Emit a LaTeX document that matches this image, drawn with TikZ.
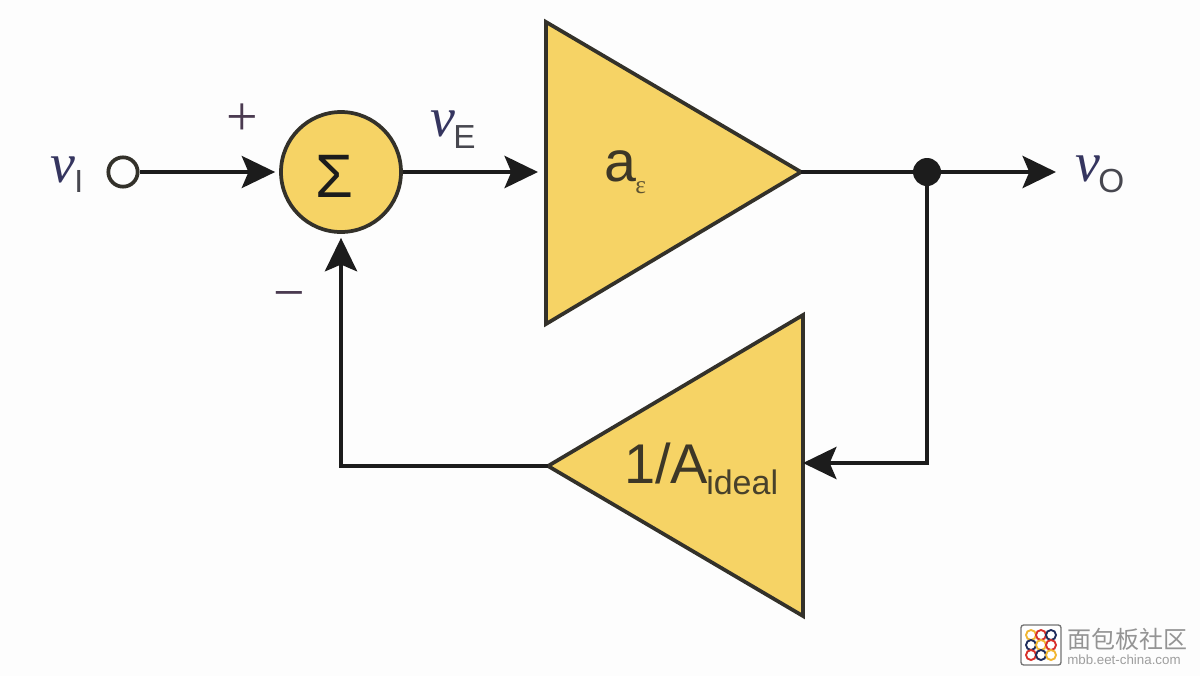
\documentclass[tikz,border=0pt]{standalone}
\usepackage{fontspec}
\setmainfont{Liberation Sans}
\newfontfamily\vfont{Liberation Serif}
\newfontfamily\cjkfont{Noto Sans CJK SC}
\usetikzlibrary{arrows.meta}
\definecolor{ambr}{HTML}{F6D365}
\definecolor{ink}{HTML}{1C1C1C}
\definecolor{edge}{HTML}{33312A}
\definecolor{vblue}{HTML}{35355F}
\definecolor{subg}{HTML}{47474F}
\definecolor{plusc}{HTML}{4A3A50}
\definecolor{paper}{HTML}{FDFDFD}
\newcommand{\vsym}[1]{{\vfont\itshape\fontsize{#1}{#1}\selectfont\textcolor{vblue}{v}}}
\tikzset{
  x=0.75pt,y=-0.75pt,
  wire/.style={draw=ink,line width=3.6pt,line cap=butt,line join=miter},
  thinwire/.style={draw=ink,line width=2.8pt},
  tip/.style={-{Stealth[length=25pt,width=24pt,inset=5pt]}},
  amp/.style={draw=edge,fill=ambr,line width=2.8pt,line join=miter},
  sumc/.style={circle,draw=edge,fill=ambr,line width=2.8pt,minimum size=90pt,inner sep=0pt},
  port/.style={circle,draw=edge,fill=paper,line width=2.8pt,minimum size=22pt,inner sep=0pt},
  joint/.style={circle,fill=ink,minimum size=21pt,inner sep=0pt},
  lbl/.style={inner sep=0pt,anchor=base west},
}
\begin{document}
\begin{tikzpicture}
\useasboundingbox (0,0) rectangle (1200,676);
\fill[paper] (0,0) rectangle (1200,676);
% triangle corners
\coordinate (aT) at (546,22);
\coordinate (aB) at (546,324);
\coordinate (aO) at (801,172);
\coordinate (aI) at (546,172);
\coordinate (bT) at (803,315);
\coordinate (bB) at (803,616);
\coordinate (bO) at (548,466);
\coordinate (bI) at (803,463);
\coordinate (bend1) at (927,463);
\coordinate (bend2) at (341,466);
\coordinate (vout) at (1056,172);
\draw[amp] (aT) -- (aO) -- (aB) -- cycle;
\draw[amp] (bT) -- (bO) -- (bB) -- cycle;
\node[sumc] (sum) at (341,172) {};
\node[port] (vin) at (123,172) {};
\node[joint] (dot) at (927,172) {};
% connectors
\draw[thinwire,tip,shorten >=3pt] (vin) -- (sum);
\draw[wire,tip,shorten >=6pt] (sum) -- (aI);
\draw[wire] (aO) -- (dot);
\draw[wire,tip] (dot) -- (vout);
\draw[wire,tip] (dot) -- (bend1) -- (bI);
\draw[wire,tip,shorten >=3pt] (bO) -- (bend2) -- (sum);
% labels
\node[lbl] (lsig) at (315,197) {\fontsize{46}{46}\selectfont\textcolor{ink}{Σ}};
\node[lbl] (lvi) at (50,182) {\vsym{42}};
\node[lbl] (lvis) at (74,192) {\fontsize{24}{24}\selectfont\textcolor{subg}{I}};
\node[lbl] (lve) at (430,136) {\vsym{42}};
\node[lbl] (lves) at (453,148) {\fontsize{25}{25}\selectfont\textcolor{subg}{E}};
\node[lbl] (lvo) at (1075,181) {\vsym{42}};
\node[lbl] (lvos) at (1098,192) {\fontsize{25}{25}\selectfont\textcolor{subg}{O}};
\node[lbl] (plus) at (226,135) {\vfont\fontsize{42}{42}\selectfont\textcolor{plusc}{+}};
\node[lbl] (minus) at (273,311) {\vfont\fontsize{42}{42}\selectfont\textcolor{plusc}{−}};
\node[lbl] (la) at (604,181) {\fontsize{43}{43}\selectfont\textcolor{ink!85!ambr}{a}};
\node[lbl] (las) at (635,193) {\vfont\fontsize{19}{19}\selectfont\textcolor{ink!70!ambr}{ε}};
\node[lbl] (lb) at (624,483) {\fontsize{42}{42}\selectfont\textcolor{ink!85!ambr}{1/A}};
\node[lbl] (lbs) at (706,494) {\fontsize{25.5}{25.5}\selectfont\textcolor{ink!80!ambr}{ideal}};
% watermark
\node[draw=black!55,fill=white,rounded corners=2pt,line width=1pt,minimum size=30pt,inner sep=0pt] (logo) at (1041,645) {};
\foreach \cx/\cy/\cc in {1031/635/F2B632,1041/635/D8302A,1051/635/1F2C5C,1031/645/1F2C5C,1041/645/F2B632,1051/645/D8302A,1031/655/D8302A,1041/655/1F2C5C,1051/655/F2B632}{
  \definecolor{tmpc}{HTML}{\cc}
  \draw[tmpc,line width=1.4pt] (\cx,\cy) circle[radius=5];
}
\node[lbl,text=black!42] (wm1) at (1067,648) {\cjkfont\fontsize{18}{18}\selectfont 面包板社区};
\node[lbl,text=black!38] (wm2) at (1067,664) {\fontsize{10}{10}\selectfont mbb.eet-china.com};
\end{tikzpicture}
\end{document}
